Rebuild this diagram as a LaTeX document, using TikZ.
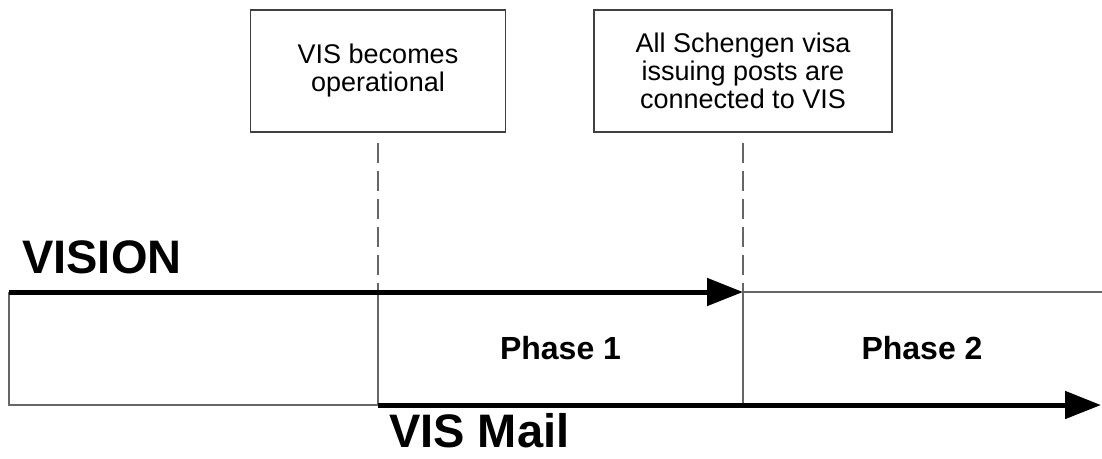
\documentclass[tikz,border=0pt]{standalone}
\usepackage{fontspec}
\setmainfont{Liberation Sans}
\usepackage{tikz}
\usetikzlibrary{positioning, arrows.meta, calc}

\begin{document}
\begin{tikzpicture}[
    x=1pt, y=-1pt,
    event/.style={rectangle, draw=black!75, line width=1.5pt, align=center, font=\fontsize{27}{28}\selectfont},
    timeline/.style={-{Triangle[length=36pt, width=27pt]}, line width=5pt},
    grid/.style={draw=black!60, line width=1.5pt},
    marker/.style={draw=black!60, line width=1.5pt, dash pattern=on 20pt off 8pt},
    phase/.style={font=\bfseries\fontsize{32}{34}\selectfont},
    track/.style={inner sep=0pt, font=\bfseries\fontsize{47}{50}\selectfont}
]
\useasboundingbox (0,0) rectangle (1102,458);

% milestones
\node[event, minimum width=255pt, minimum height=122pt] (operational) at (378,71) {VIS becomes\\operational};
\node[event, minimum width=298pt, minimum height=122pt] (connected) at (743,71) {All Schengen visa\\issuing posts are\\connected to VIS};

% time points
\coordinate (start) at (9,292);
\coordinate (golive) at (378,292);
\coordinate (rollout) at (743,292);
\coordinate (future) at (1102,292);
\coordinate (startlow) at (9,405);
\coordinate (golivelow) at (378,405);
\coordinate (rolloutlow) at (743,405);
\coordinate (mailend) at (1101,405);

\draw[marker, shorten <=10pt] (operational.south) -- (golive);
\draw[marker, shorten <=10pt] (connected.south) -- (rollout);

% phase grid
\draw[grid] (golivelow) -- (startlow) -- (start);
\draw[grid] (golivelow) -- (golive);
\draw[grid] (rollout) -- (rolloutlow);
\draw[grid] (rollout) -- (future);

% tracks
\draw[timeline] (start) -- (rollout);
\draw[timeline] (golivelow) -- (mailend);

\node[track, anchor=base west] (vision) at (22,273) {VISION};
\node[track, anchor=base west] (mail) at (389,447) {VIS Mail};
\node[phase] (phase1) at ($(golive)!0.5!(rolloutlow)$) {Phase 1};
\node[phase] (phase2) at ($(rollout)!0.5!(mailend)$) {Phase 2};
\end{tikzpicture}
\end{document}
